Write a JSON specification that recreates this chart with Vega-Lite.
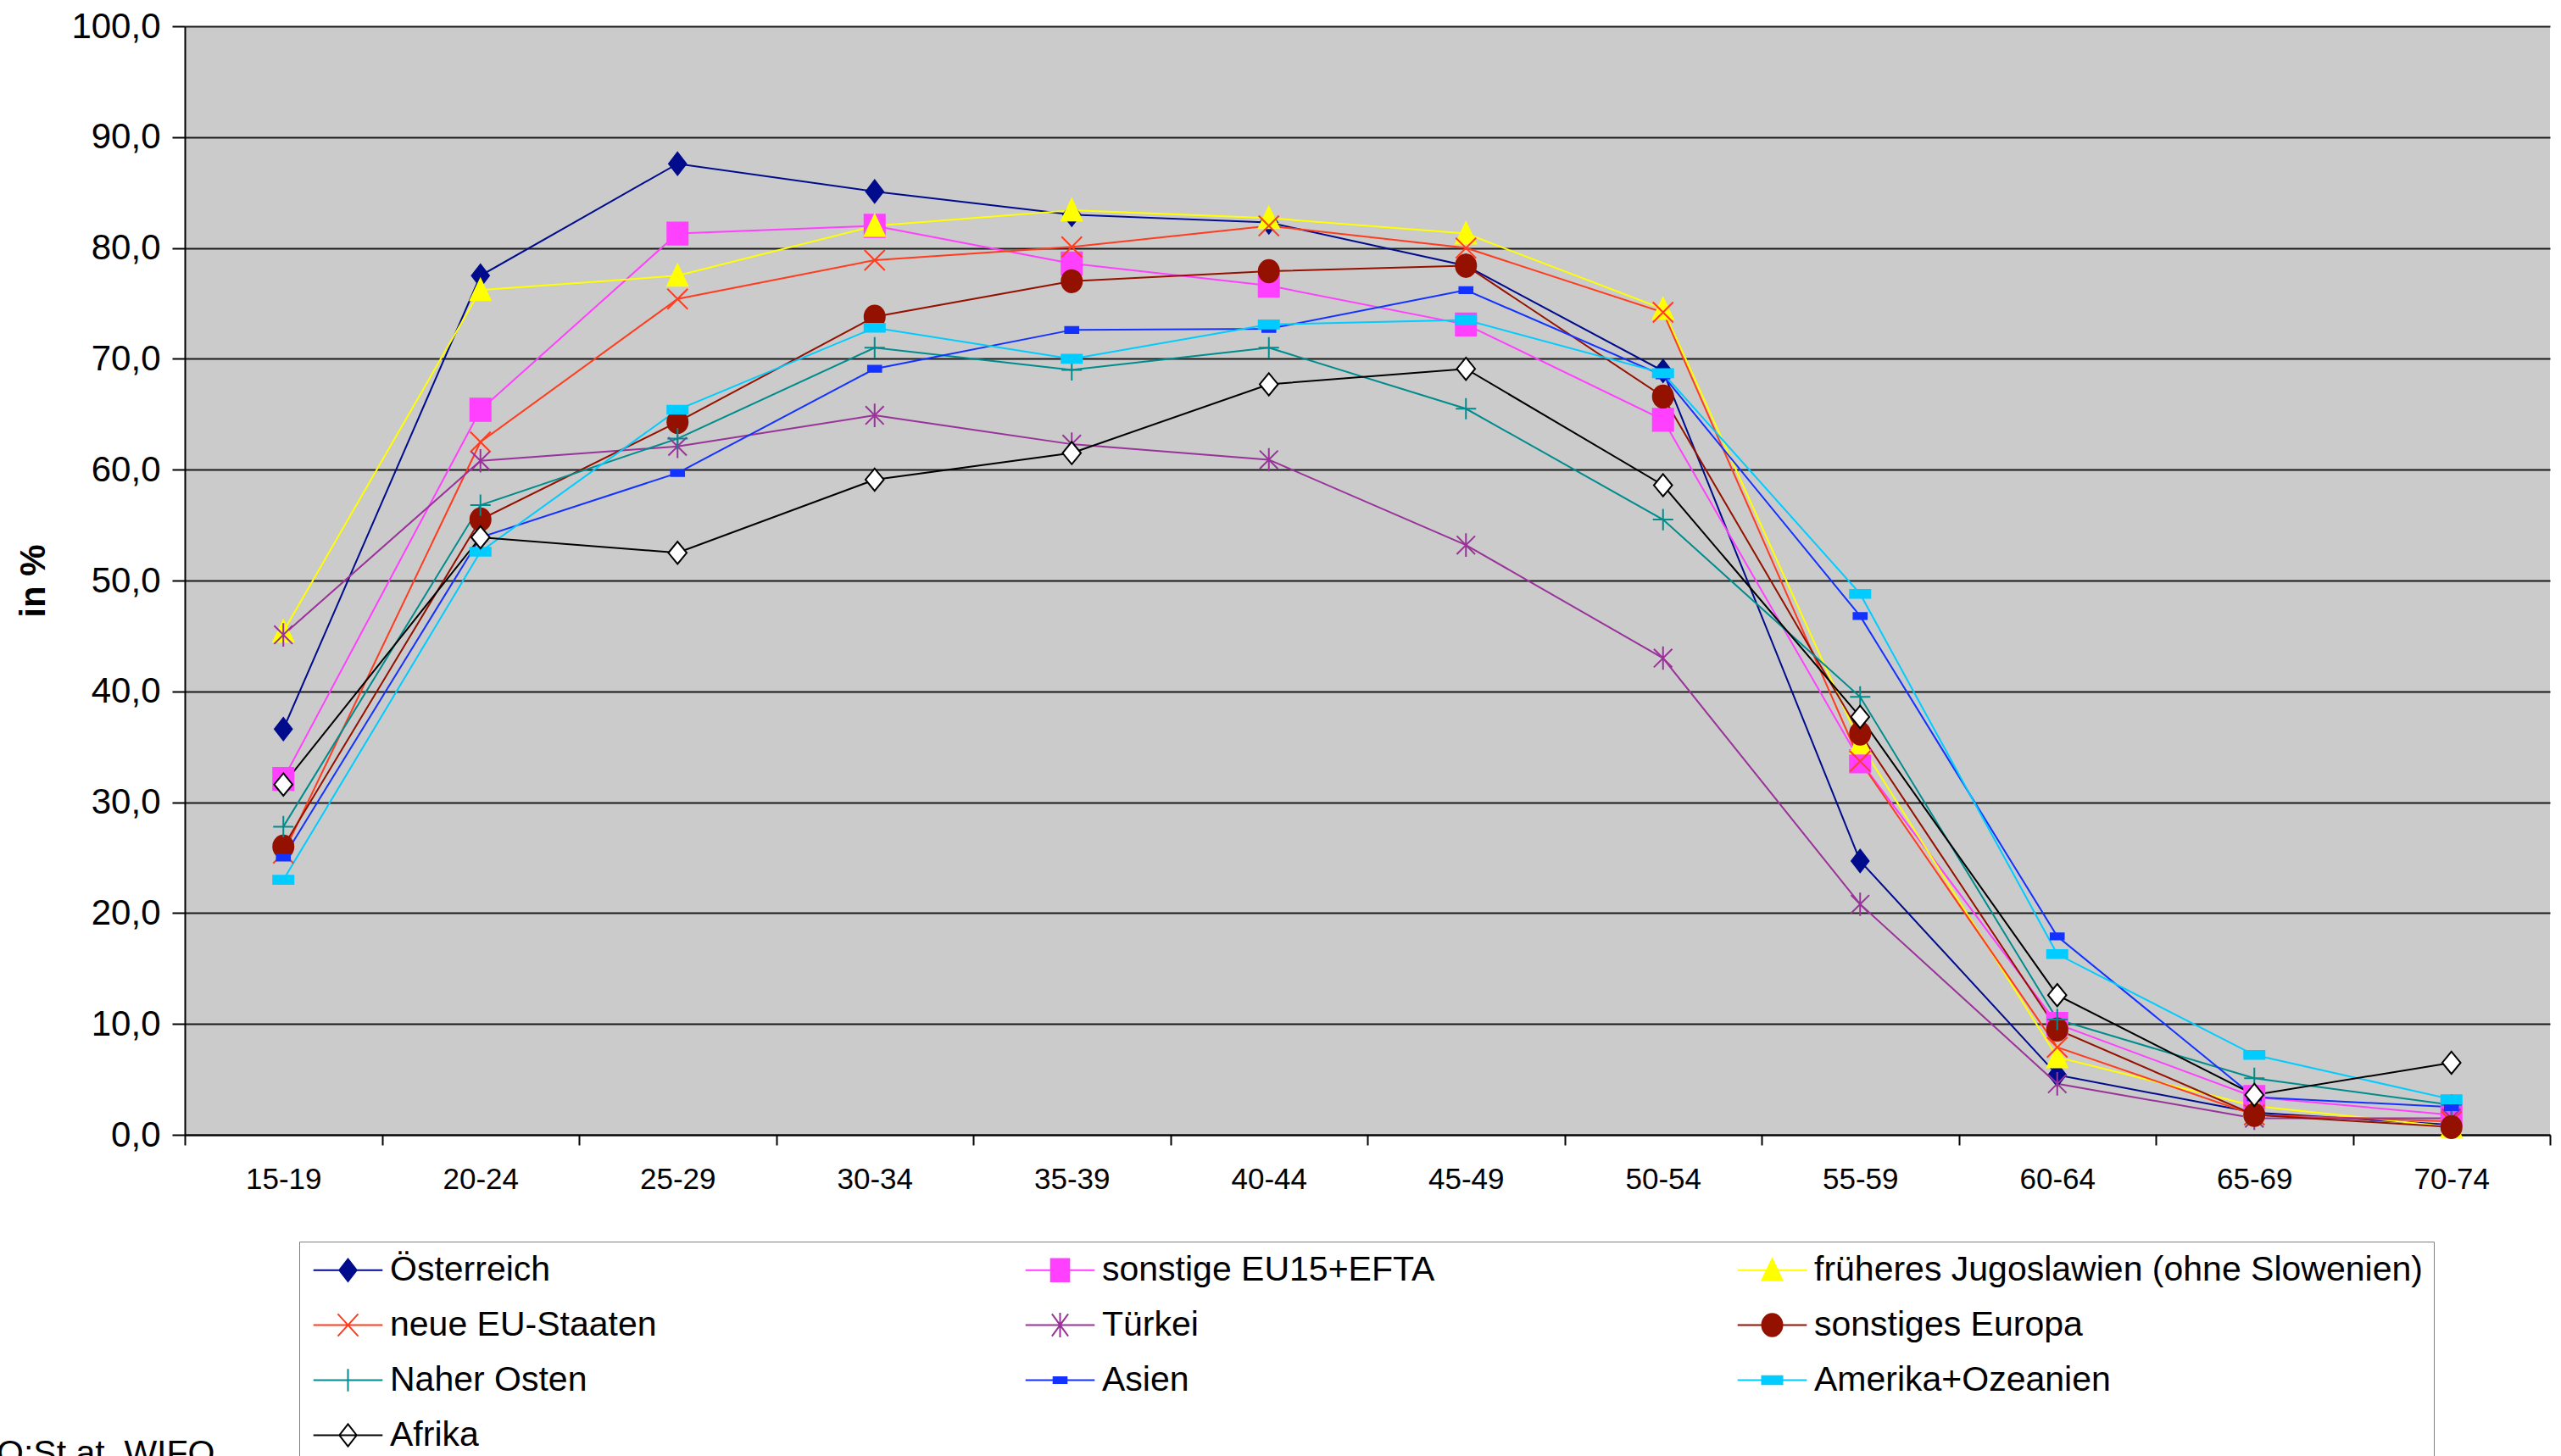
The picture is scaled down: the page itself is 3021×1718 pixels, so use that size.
{
  "$schema": "https://vega.github.io/schema/vega-lite/v6.json",
  "width": 2790,
  "height": 1308,
  "autosize": {"type": "none"},
  "padding": {"left": 218, "top": 31, "right": 13, "bottom": 379},
  "background": "#ffffff",
  "config": {
    "view": {"fill": "#CBCBCB", "stroke": null},
    "font": "Liberation Sans",
    "axis": {"labelFont": "Liberation Sans", "titleFont": "Liberation Sans", "labelColor": "#000", "titleColor": "#000"},
    "point": {"size": 576, "strokeWidth": 2, "opacity": 1, "filled": false}
  },
  "title": {"text": "Q:St.at, WIFO", "orient": "bottom", "anchor": "start", "frame": "group", "fontSize": 41, "fontWeight": "normal", "font": "Liberation Sans", "color": "#000", "dx": -222, "offset": -32, "baseline": "top"},
  "datasets": {
    "d": [
      {"g": "15-19", "s": "Österreich", "v": 36.6}, {"g": "20-24", "s": "Österreich", "v": 77.5}, {"g": "25-29", "s": "Österreich", "v": 87.6}, {"g": "30-34", "s": "Österreich", "v": 85.1}, {"g": "35-39", "s": "Österreich", "v": 83.0}, {"g": "40-44", "s": "Österreich", "v": 82.3}, {"g": "45-49", "s": "Österreich", "v": 78.4}, {"g": "50-54", "s": "Österreich", "v": 68.9}, {"g": "55-59", "s": "Österreich", "v": 24.7}, {"g": "60-64", "s": "Österreich", "v": 5.4}, {"g": "65-69", "s": "Österreich", "v": 2.0}, {"g": "70-74", "s": "Österreich", "v": 0.9},
      {"g": "15-19", "s": "sonstige EU15+EFTA", "v": 32.1}, {"g": "20-24", "s": "sonstige EU15+EFTA", "v": 65.4}, {"g": "25-29", "s": "sonstige EU15+EFTA", "v": 81.3}, {"g": "30-34", "s": "sonstige EU15+EFTA", "v": 82.0}, {"g": "35-39", "s": "sonstige EU15+EFTA", "v": 78.6}, {"g": "40-44", "s": "sonstige EU15+EFTA", "v": 76.6}, {"g": "45-49", "s": "sonstige EU15+EFTA", "v": 73.1}, {"g": "50-54", "s": "sonstige EU15+EFTA", "v": 64.5}, {"g": "55-59", "s": "sonstige EU15+EFTA", "v": 33.7}, {"g": "60-64", "s": "sonstige EU15+EFTA", "v": 10.0}, {"g": "65-69", "s": "sonstige EU15+EFTA", "v": 3.4}, {"g": "70-74", "s": "sonstige EU15+EFTA", "v": 1.8},
      {"g": "15-19", "s": "früheres Jugoslawien (ohne Slowenien)", "v": 45.4}, {"g": "20-24", "s": "früheres Jugoslawien (ohne Slowenien)", "v": 76.2}, {"g": "25-29", "s": "früheres Jugoslawien (ohne Slowenien)", "v": 77.5}, {"g": "30-34", "s": "früheres Jugoslawien (ohne Slowenien)", "v": 82.0}, {"g": "35-39", "s": "früheres Jugoslawien (ohne Slowenien)", "v": 83.4}, {"g": "40-44", "s": "früheres Jugoslawien (ohne Slowenien)", "v": 82.7}, {"g": "45-49", "s": "früheres Jugoslawien (ohne Slowenien)", "v": 81.3}, {"g": "50-54", "s": "früheres Jugoslawien (ohne Slowenien)", "v": 74.5}, {"g": "55-59", "s": "früheres Jugoslawien (ohne Slowenien)", "v": 35.3}, {"g": "60-64", "s": "früheres Jugoslawien (ohne Slowenien)", "v": 7.0}, {"g": "65-69", "s": "früheres Jugoslawien (ohne Slowenien)", "v": 2.6}, {"g": "70-74", "s": "früheres Jugoslawien (ohne Slowenien)", "v": 0.7},
      {"g": "15-19", "s": "neue EU-Staaten", "v": 25.4}, {"g": "20-24", "s": "neue EU-Staaten", "v": 62.5}, {"g": "25-29", "s": "neue EU-Staaten", "v": 75.4}, {"g": "30-34", "s": "neue EU-Staaten", "v": 78.9}, {"g": "35-39", "s": "neue EU-Staaten", "v": 80.1}, {"g": "40-44", "s": "neue EU-Staaten", "v": 82.0}, {"g": "45-49", "s": "neue EU-Staaten", "v": 80.0}, {"g": "50-54", "s": "neue EU-Staaten", "v": 74.2}, {"g": "55-59", "s": "neue EU-Staaten", "v": 33.7}, {"g": "60-64", "s": "neue EU-Staaten", "v": 7.9}, {"g": "65-69", "s": "neue EU-Staaten", "v": 1.8}, {"g": "70-74", "s": "neue EU-Staaten", "v": 1.2},
      {"g": "15-19", "s": "Türkei", "v": 45.1}, {"g": "20-24", "s": "Türkei", "v": 60.8}, {"g": "25-29", "s": "Türkei", "v": 62.1}, {"g": "30-34", "s": "Türkei", "v": 64.9}, {"g": "35-39", "s": "Türkei", "v": 62.3}, {"g": "40-44", "s": "Türkei", "v": 60.9}, {"g": "45-49", "s": "Türkei", "v": 53.2}, {"g": "50-54", "s": "Türkei", "v": 43.0}, {"g": "55-59", "s": "Türkei", "v": 20.8}, {"g": "60-64", "s": "Türkei", "v": 4.6}, {"g": "65-69", "s": "Türkei", "v": 1.5}, {"g": "70-74", "s": "Türkei", "v": 1.5},
      {"g": "15-19", "s": "sonstiges Europa", "v": 26.0}, {"g": "20-24", "s": "sonstiges Europa", "v": 55.5}, {"g": "25-29", "s": "sonstiges Europa", "v": 64.3}, {"g": "30-34", "s": "sonstiges Europa", "v": 73.8}, {"g": "35-39", "s": "sonstiges Europa", "v": 77.0}, {"g": "40-44", "s": "sonstiges Europa", "v": 77.9}, {"g": "45-49", "s": "sonstiges Europa", "v": 78.4}, {"g": "50-54", "s": "sonstiges Europa", "v": 66.6}, {"g": "55-59", "s": "sonstiges Europa", "v": 36.2}, {"g": "60-64", "s": "sonstiges Europa", "v": 9.5}, {"g": "65-69", "s": "sonstiges Europa", "v": 1.8}, {"g": "70-74", "s": "sonstiges Europa", "v": 0.7},
      {"g": "15-19", "s": "Naher Osten", "v": 27.8}, {"g": "20-24", "s": "Naher Osten", "v": 56.8}, {"g": "25-29", "s": "Naher Osten", "v": 62.8}, {"g": "30-34", "s": "Naher Osten", "v": 71.0}, {"g": "35-39", "s": "Naher Osten", "v": 69.0}, {"g": "40-44", "s": "Naher Osten", "v": 71.0}, {"g": "45-49", "s": "Naher Osten", "v": 65.5}, {"g": "50-54", "s": "Naher Osten", "v": 55.5}, {"g": "55-59", "s": "Naher Osten", "v": 39.5}, {"g": "60-64", "s": "Naher Osten", "v": 10.4}, {"g": "65-69", "s": "Naher Osten", "v": 5.1}, {"g": "70-74", "s": "Naher Osten", "v": 2.7},
      {"g": "15-19", "s": "Asien", "v": 25.0}, {"g": "20-24", "s": "Asien", "v": 53.9}, {"g": "25-29", "s": "Asien", "v": 59.7}, {"g": "30-34", "s": "Asien", "v": 69.1}, {"g": "35-39", "s": "Asien", "v": 72.6}, {"g": "40-44", "s": "Asien", "v": 72.7}, {"g": "45-49", "s": "Asien", "v": 76.2}, {"g": "50-54", "s": "Asien", "v": 68.5}, {"g": "55-59", "s": "Asien", "v": 46.8}, {"g": "60-64", "s": "Asien", "v": 17.9}, {"g": "65-69", "s": "Asien", "v": 3.4}, {"g": "70-74", "s": "Asien", "v": 2.5},
      {"g": "15-19", "s": "Amerika+Ozeanien", "v": 23.0}, {"g": "20-24", "s": "Amerika+Ozeanien", "v": 52.6}, {"g": "25-29", "s": "Amerika+Ozeanien", "v": 65.4}, {"g": "30-34", "s": "Amerika+Ozeanien", "v": 72.8}, {"g": "35-39", "s": "Amerika+Ozeanien", "v": 70.0}, {"g": "40-44", "s": "Amerika+Ozeanien", "v": 73.1}, {"g": "45-49", "s": "Amerika+Ozeanien", "v": 73.5}, {"g": "50-54", "s": "Amerika+Ozeanien", "v": 68.7}, {"g": "55-59", "s": "Amerika+Ozeanien", "v": 48.8}, {"g": "60-64", "s": "Amerika+Ozeanien", "v": 16.3}, {"g": "65-69", "s": "Amerika+Ozeanien", "v": 7.2}, {"g": "70-74", "s": "Amerika+Ozeanien", "v": 3.2},
      {"g": "15-19", "s": "Afrika", "v": 31.6}, {"g": "20-24", "s": "Afrika", "v": 53.9}, {"g": "25-29", "s": "Afrika", "v": 52.5}, {"g": "30-34", "s": "Afrika", "v": 59.1}, {"g": "35-39", "s": "Afrika", "v": 61.5}, {"g": "40-44", "s": "Afrika", "v": 67.7}, {"g": "45-49", "s": "Afrika", "v": 69.1}, {"g": "50-54", "s": "Afrika", "v": 58.6}, {"g": "55-59", "s": "Afrika", "v": 37.7}, {"g": "60-64", "s": "Afrika", "v": 12.6}, {"g": "65-69", "s": "Afrika", "v": 3.6}, {"g": "70-74", "s": "Afrika", "v": 6.5}
    ]
  },
  "data": {"name": "d"},
  "encoding": {
    "x": {
      "field": "g", "type": "ordinal", "sort": null, "bandPosition": 0.5,
      "scale": {"type": "band", "paddingInner": 0, "paddingOuter": 0},
      "axis": {"title": null, "tickBand": "extent", "labelAngle": 0, "labelFontSize": 35, "tickColor": "#000", "tickSize": 12, "tickWidth": 2, "domainColor": "#000", "domainWidth": 2, "labelPadding": 23, "grid": false}
    },
    "y": {
      "field": "v", "type": "quantitative",
      "scale": {"domain": [0, 100], "nice": false, "zero": true},
      "axis": {"values": [0, 10, 20, 30, 40, 50, 60, 70, 80, 90, 100], "labelExpr": "replace(format(datum.value, '.1f'), '.', ',')", "title": "in %", "titleFontSize": 42, "titleFontWeight": "bold", "titlePadding": 22, "labelFontSize": 42, "labelPadding": 14, "tickSize": 15, "tickWidth": 2, "tickColor": "#000", "domainColor": "#000", "domainWidth": 2, "grid": true, "gridColor": "#1a1a1a", "gridWidth": 2, "gridOpacity": 1}
    },
    "color": {
      "field": "s", "type": "nominal",
      "scale": {"domain": ["Österreich", "sonstige EU15+EFTA", "früheres Jugoslawien (ohne Slowenien)", "neue EU-Staaten", "Türkei", "sonstiges Europa", "Naher Osten", "Asien", "Amerika+Ozeanien", "Afrika"], "range": ["#000C8C", "#FF40FF", "#FFFF00", "#FF3C1E", "#993399", "#941100", "#008C8C", "#1432FF", "#00CCFF", "#000000"]},
      "legend": {
        "orient": "none", "legendX": 135, "legendY": 1434, "columns": 3, "direction": "horizontal", "gridAlign": "all",
        "columnPadding": 27, "rowPadding": 23, "padding": 13, "strokeColor": "#808080", "fillColor": "#ffffff",
        "labelFontSize": 41, "labelFont": "Liberation Sans", "labelColor": "#000", "labelLimit": 0,
        "symbolSize": 576, "symbolOffset": 24, "labelOffset": 29, "symbolStrokeWidth": 2, "symbolOpacity": 1, "title": null
      }
    }
  },
  "layer": [
    {"mark": {"type": "line", "strokeWidth": 2}},
    {"transform": [{"filter": {"field": "s", "equal": "Österreich"}}], "mark": {"type": "point", "shape": "M0,-1.1L0.85,0L0,1.1L-0.85,0Z", "fill": "#000C8C"}},
    {"transform": [{"filter": {"field": "s", "equal": "sonstige EU15+EFTA"}}], "mark": {"type": "point", "shape": "M-1,-1.1H1V1.1H-1Z", "fill": "#FF40FF"}},
    {"transform": [{"filter": {"field": "s", "equal": "früheres Jugoslawien (ohne Slowenien)"}}], "mark": {"type": "point", "shape": "M0,-1.1L1,1H-1Z", "fill": "#FFFF00"}},
    {"transform": [{"filter": {"field": "s", "equal": "neue EU-Staaten"}}], "mark": {"type": "point", "shape": "M-1,-1L1,1M-1,1L1,-1", "fill": "transparent"}},
    {"transform": [{"filter": {"field": "s", "equal": "Türkei"}}], "mark": {"type": "point", "shape": "M-0.9,-0.9L0.9,0.9M-0.9,0.9L0.9,-0.9M0,-1.15V1.15", "fill": "transparent"}},
    {"transform": [{"filter": {"field": "s", "equal": "sonstiges Europa"}}], "mark": {"type": "point", "shape": "M-1,0A1,1.1 0 1,0 1,0A1,1.1 0 1,0 -1,0Z", "fill": "#941100"}},
    {"transform": [{"filter": {"field": "s", "equal": "Naher Osten"}}], "mark": {"type": "point", "shape": "M-1,0H1M0,-1.05V1.05", "fill": "transparent"}},
    {"transform": [{"filter": {"field": "s", "equal": "Asien"}}], "mark": {"type": "point", "shape": "M-0.65,-0.3H0.65V0.3H-0.65Z", "fill": "#1432FF"}},
    {"transform": [{"filter": {"field": "s", "equal": "Amerika+Ozeanien"}}], "mark": {"type": "point", "shape": "M-1,-0.4H1V0.4H-1Z", "fill": "#00CCFF"}},
    {"transform": [{"filter": {"field": "s", "equal": "Afrika"}}], "mark": {"type": "point", "shape": "M0,-1.1L0.9,0L0,1.1L-0.9,0Z", "fill": "#ffffff"}},
    {
      "mark": {"type": "point", "opacity": 0},
      "encoding": {
        "shape": {
          "field": "s", "type": "nominal",
          "scale": {"domain": ["Österreich", "sonstige EU15+EFTA", "früheres Jugoslawien (ohne Slowenien)", "neue EU-Staaten", "Türkei", "sonstiges Europa", "Naher Osten", "Asien", "Amerika+Ozeanien", "Afrika"], "range": ["M-3.4,0H3.4M0,-1.1L0.85,0L0,1.1L-0.85,0Z", "M-3.4,0H3.4M-0.9,-1.1H0.9V1.1H-0.9Z", "M-3.4,0H3.4M0,-1.1L1,1H-1Z", "M-3.4,0H3.4M-1,-1.1L1,1.1M-1,1.1L1,-1.1", "M-3.4,0H3.4M-0.8,-1.1L0.8,1.1M-0.8,1.1L0.8,-1.1M0,-1.2V1.2", "M-3.4,0H3.4M-1,0A1,1.1 0 1,0 1,0A1,1.1 0 1,0 -1,0Z", "M-3.4,0H3.4M0,-1.1V1.1", "M-3.4,0H3.4M-0.65,-0.3H0.65V0.3H-0.65Z", "M-3.4,0H3.4M-1,-0.4H1V0.4H-1Z", "M-3.4,0H3.4M0,-1.1L0.85,0L0,1.1L-0.85,0Z"]}
        },
        "fill": {
          "field": "s", "type": "nominal",
          "scale": {"domain": ["Österreich", "sonstige EU15+EFTA", "früheres Jugoslawien (ohne Slowenien)", "neue EU-Staaten", "Türkei", "sonstiges Europa", "Naher Osten", "Asien", "Amerika+Ozeanien", "Afrika"], "range": ["#000C8C", "#FF40FF", "#FFFF00", "#FF3C1E", "#993399", "#941100", "#008C8C", "#1432FF", "#00CCFF", "#ffffff"]}
        }
      }
    }
  ]
}
